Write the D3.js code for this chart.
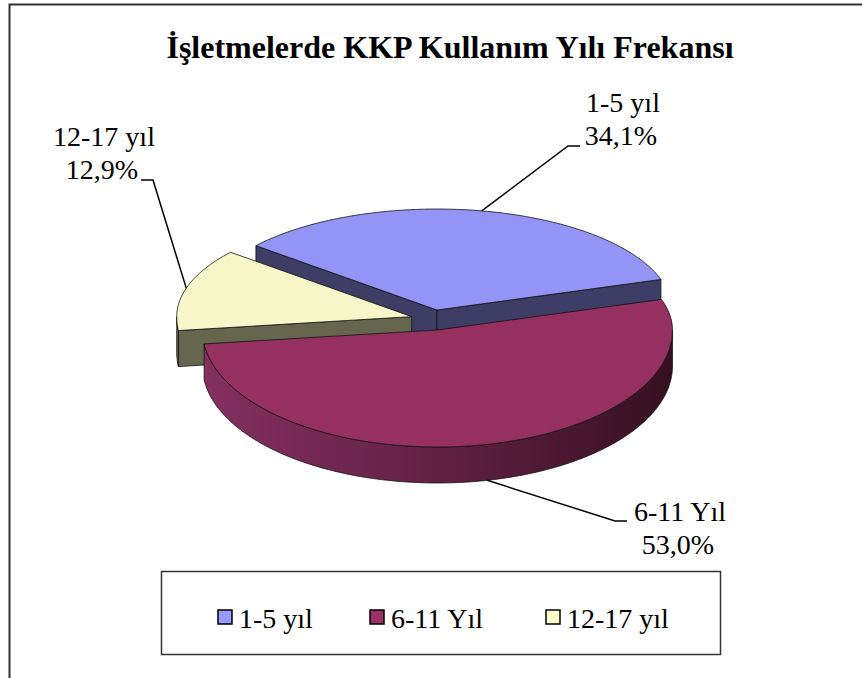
<!DOCTYPE html>
<html>
<head>
<meta charset="utf-8">
<script src="https://cdn.jsdelivr.net/npm/d3@7"></script>
<style>
    body { margin: 0; background: #fff; }
    svg { display: block; }
    text { font-family: "Liberation Serif", "Times New Roman", serif; fill: #000; }
</style>
</head>
<body>
<svg id="chart" width="862" height="678"></svg>
<script>
// data
var categories = ["1-5 yıl", "6-11 Yıl", "12-17 yıl"];
var values = [34.1, 53.0, 12.9];
var title = "İşletmelerde KKP Kullanım Yılı Frekansı";

var topColors = ["#9494f7", "#963060", "#f6f6c9"];
var sideColors = ["#3d3d66", "#4a1830", "#66664f"];
var legendColors = ["#9999ff", "#993366", "#ffffcc"];

var svg = d3.select("#chart");

// outer frame
svg.append("rect")
    .attr("x", 9.5).attr("y", 4.5)
    .attr("width", 900).attr("height", 700)
    .attr("fill", "none")
    .attr("stroke", "#333")
    .attr("stroke-width", 2);

svg.append("text")
    .attr("x", 450).attr("y", 58)
    .attr("text-anchor", "middle")
    .style("font-size", "32px")
    .style("font-weight", "bold")
    .text(title);

// 3d pie geometry (back half flatter than front half, to fake the perspective)
var cx0 = 432.8, cy0 = 319.3, rx = 235, ryBack = 101, ryFront = 117, depth = 36, explode = 0.0935;
var start = -50.4 * Math.PI / 180;

var pie = d3.pie().sort(null).startAngle(start).endAngle(start + 2 * Math.PI);
var arcs = pie(values);

function ry(a){ return Math.cos(a) > 0 ? ryBack : ryFront; }
function centerOf(d){
    var m = (d.startAngle + d.endAngle) / 2;
    return {x: cx0 + explode * rx * Math.sin(m), y: cy0 - explode * ry(m) * Math.cos(m)};
}
function pt(c, a, dy){
    return [c.x + rx * Math.sin(a), c.y - ry(a) * Math.cos(a) + (dy || 0)];
}
function arcPts(c, a, b, dy){
    var n = Math.max(2, Math.ceil((b - a) / 0.01));
    return d3.range(n + 1).map(function(j){ return pt(c, a + (b - a) * j / n, dy); });
}
var line = d3.line();

var grad = svg.append("defs").append("linearGradient")
    .attr("id", "wallGrad")
    .attr("x1", "0").attr("y1", "0").attr("x2", "1").attr("y2", "0");
grad.append("stop").attr("offset", "0%").attr("stop-color", "#843060");
grad.append("stop").attr("offset", "55%").attr("stop-color", "#5e1f40");
grad.append("stop").attr("offset", "100%").attr("stop-color", "#35101f");

var pieG = svg.append("g");
// draw back to front: blue, yellow, magenta
var order = [0, 2, 1];
order.forEach(function(i){
    var d = arcs[i];
    var c = centerOf(d);
    var a0 = d.startAngle, a1 = d.endAngle;
    var g = pieG.append("g");
    var apex = [c.x, c.y], apexLow = [c.x, c.y + depth];

    // radial side faces
    if (Math.sin(a0) < 0) {
        g.append("path")
            .attr("d", line([apex, pt(c, a0), pt(c, a0, depth), apexLow]) + "Z")
            .attr("fill", sideColors[i]).attr("stroke", "#111").attr("stroke-width", 0.8);
    }
    if (Math.sin(a1) > 0) {
        g.append("path")
            .attr("d", line([apex, pt(c, a1), pt(c, a1, depth), apexLow]) + "Z")
            .attr("fill", sideColors[i]).attr("stroke", "#111").attr("stroke-width", 0.8);
    }
    // outer wall on the front half
    for (var k = -1; k <= 1; k++) {
        var s = Math.max(a0, Math.PI / 2 + 2 * Math.PI * k);
        var e = Math.min(a1, 3 * Math.PI / 2 + 2 * Math.PI * k);
        if (e > s) {
            var wall = arcPts(c, s, e, 0).concat(arcPts(c, s, e, depth).reverse());
            g.append("path")
                .attr("d", line(wall) + "Z")
                .attr("fill", i == 1 ? "url(#wallGrad)" : sideColors[i])
                .attr("stroke", "#111").attr("stroke-width", 0.8);
        }
    }
    // top face
    g.append("path")
        .attr("d", line([apex].concat(arcPts(c, a0, a1, 0))) + "Z")
        .attr("fill", topColors[i]).attr("stroke", "#111").attr("stroke-width", 0.8);
});

// data labels with leader lines
var fmt = function(v){ return v.toFixed(1).replace(".", ",") + "%"; };
var labelPos = [
    {x: 623, y: 112, ex: 568, anchorY: 146, side: 1, wall: false},
    {x: 680, y: 521, ex: 615, anchorY: 521, side: 1, wall: true},
    {x: 104, y: 146, ex: 153, anchorY: 180, side: -1, wall: false}
];
arcs.forEach(function(d, i){
    var c = centerOf(d);
    var m = (d.startAngle + d.endAngle) / 2;
    var lp = labelPos[i];
    var from = pt(c, m, lp.wall ? depth : 0);
    var tipX = lp.side > 0 ? lp.ex + 12 : lp.ex - 12;
    svg.append("path")
        .attr("d", line([from, [lp.ex, lp.anchorY], [tipX, lp.anchorY]]))
        .attr("fill", "none").attr("stroke", "#000").attr("stroke-width", 1.5);
    var t = svg.append("text")
        .attr("x", lp.x).attr("y", lp.y)
        .attr("text-anchor", "middle")
        .style("font-size", "28px");
    t.append("tspan").attr("x", lp.x).attr("dy", 0).text(categories[i]);
    t.append("tspan").attr("x", lp.x - 2).attr("dy", 33).text(fmt(values[i]));
});

// legend
svg.append("rect")
    .attr("x", 161.5).attr("y", 571.5)
    .attr("width", 559).attr("height", 83)
    .attr("fill", "#fff").attr("stroke", "#333").attr("stroke-width", 1.5);

var legendX = d3.scaleOrdinal().domain(categories).range([218, 370, 546]);
var lg = svg.append("g").selectAll("g").data(categories).enter().append("g")
    .attr("transform", function(d){ return "translate(" + legendX(d) + ",610)"; });
lg.append("rect")
    .attr("width", 14).attr("height", 14)
    .attr("fill", function(d, i){ return legendColors[i]; })
    .attr("stroke", "#000").attr("stroke-width", 1.5);
lg.append("text")
    .attr("x", 21).attr("y", 18)
    .style("font-size", "28px")
    .text(function(d){ return d; });
</script>
</body>
</html>
